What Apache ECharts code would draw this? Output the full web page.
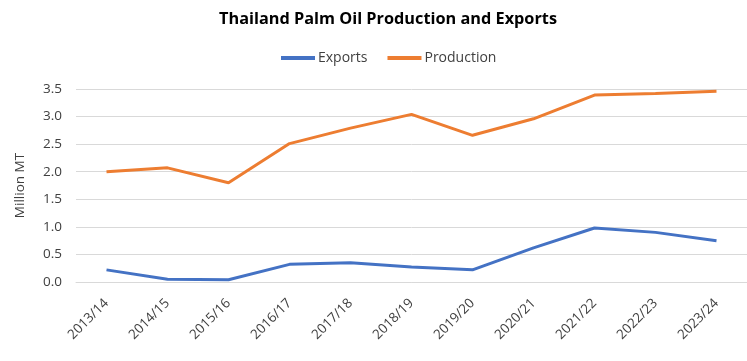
<!DOCTYPE html>
<html><head><meta charset="utf-8">
<script src="https://cdn.jsdelivr.net/npm/echarts@6/dist/echarts.min.js"></script>
<style>html,body{margin:0;padding:0;background:#fff}#c{width:747px;height:361px}</style>
</head><body><div id="c"></div>
<script>
var categories = ['2013/14','2014/15','2015/16','2016/17','2017/18','2018/19','2019/20','2020/21','2021/22','2022/23','2023/24'];
var exportsData = [0.22, 0.05, 0.04, 0.32, 0.35, 0.27, 0.22, 0.62, 0.98, 0.90, 0.75];
var productionData = [2.00, 2.07, 1.80, 2.51, 2.79, 3.04, 2.66, 2.96, 3.39, 3.42, 3.46];
var yTicks = [0, 0.5, 1, 1.5, 2, 2.5, 3, 3.5];
var font = '"Open Sans", "Noto Sans", sans-serif';
var chart = echarts.init(document.getElementById('c'));
chart.setOption({
  animation: false,
  title: {text: 'Thailand Palm Oil Production and Exports', left: 214, top: 6,
    textStyle: {fontFamily: font, fontSize: 16.3, fontWeight: 'bold', color: '#000'}},
  legend: {top: 46, left: 276, itemWidth: 34, itemHeight: 4, itemGap: 20,
    icon: 'rect',
    textStyle: {fontFamily: font, fontSize: 14, color: '#404040', padding: [0,0,0,-2]},
    data: ['Exports', 'Production']},
  grid: {left: 76, right: -9, top: 89, bottom: 79, containLabel: false},
  xAxis: {type: 'category', data: categories, boundaryGap: true,
    axisLine: {lineStyle: {color: '#D9D9D9'}}, axisTick: {show: false},
    axisLabel: {rotate: 45, fontFamily: font, fontSize: 13.5, color: '#404040', margin: 19, interval: 0}},
  yAxis: {type: 'value', min: yTicks[0], max: yTicks[yTicks.length-1], interval: 0.5,
    name: 'Million MT', nameLocation: 'middle', nameGap: 49, nameRotate: 90,
    nameTextStyle: {fontFamily: font, fontSize: 13.5, color: '#404040'},
    axisLabel: {fontFamily: font, fontSize: 13.5, color: '#404040', margin: 14,
      formatter: function(v){return v.toFixed(1);}},
    axisLine: {show: false}, axisTick: {show: false},
    splitLine: {lineStyle: {color: '#D9D9D9', width: 1}}},
  series: [
    {name: 'Exports', type: 'line', data: exportsData, symbol: 'none',
      lineStyle: {color: '#4472C4', width: 3}, itemStyle: {color: '#4472C4'}},
    {name: 'Production', type: 'line', data: productionData, symbol: 'none',
      lineStyle: {color: '#ED7D31', width: 3}, itemStyle: {color: '#ED7D31'}}
  ]
});
</script></body></html>
